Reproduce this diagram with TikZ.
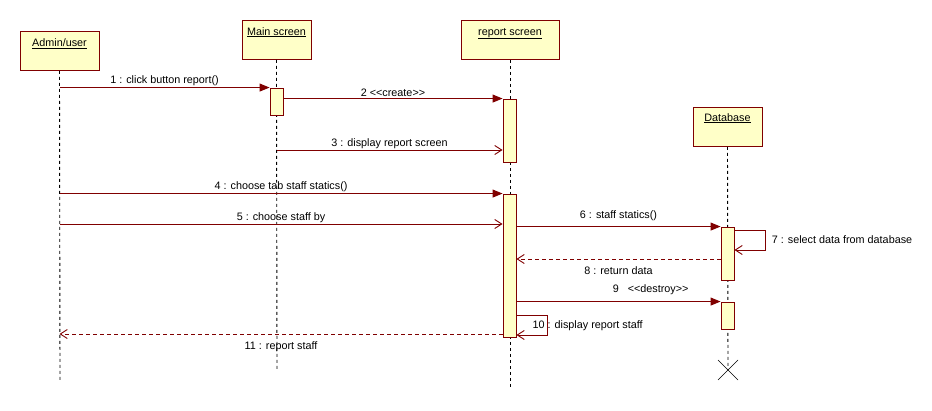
\documentclass[tikz,border=0pt]{standalone}
\usepackage{fontspec}
\setmainfont{Liberation Sans}[Ligatures=TeXOff]
\usepackage{xcolor}
\usetikzlibrary{arrows.meta,positioning,calc}
\definecolor{umlred}{RGB}{128,0,0}
\definecolor{umlfill}{RGB}{255,255,200}

\begin{document}
\begin{tikzpicture}[x=1pt,y=-1pt,
  txt/.style={font=\fontsize{10.8}{13}\selectfont, text=black, inner sep=3pt},
  msg/.style={txt, midway, above, yshift=-2pt},
  obj/.style={draw=umlred, fill=umlfill, line width=0.9pt, anchor=north, minimum height=39pt, inner sep=0pt},
  objname/.style={txt, anchor=base},
  act/.style={draw=umlred, fill=umlfill, line width=0.9pt, minimum width=13pt, inner sep=0pt},
  lifeline/.style={black, line width=0.9pt, dash pattern=on 3pt off 3pt},
  call/.style={umlred, line width=0.9pt, -{Triangle[length=10pt, width=8pt]}},
  send/.style={umlred, line width=0.9pt, -{Straight Barb[length=7pt, width=9pt]}},
  reply/.style={send, dash pattern=on 4pt off 3pt}]
\useasboundingbox (0,0) rectangle (932,410);

% Objects
\node[obj, minimum width=79pt] (admin) at (59.5,31) {};
\node[obj, minimum width=69pt] (mainscr) at (276.5,20) {};
\node[obj, minimum width=98pt] (report) at (510,20) {};
\node[obj, minimum width=69pt] (db) at (727.5,107) {};
\node[objname] (adminname) at ([yshift=-15.5pt]admin.north) {\underline{Admin/user}};
\node[objname] (mainname) at ([yshift=-15pt]mainscr.north) {\underline{Main screen}};
\node[objname] (reportname) at ([yshift=-15pt]report.north) {\underline{report screen}};
\node[objname] (dbname) at ([yshift=-14pt]db.north) {\underline{Database}};

% Lifelines
\coordinate (adminend) at (60,380);
\coordinate (mainend) at (277,369);
\coordinate (reportend) at (510,387);
\coordinate (dbend) at (728,370);
\draw[lifeline] (admin.south) -- (adminend);
\draw[lifeline] (mainscr.south) -- (mainend);
\draw[lifeline] (report.south) -- (reportend);
\draw[lifeline] (db.south) -- (dbend);
\draw[line width=0.6pt] ($(dbend)+(-10,-10)$) -- ($(dbend)+(10,10)$);
\draw[line width=0.6pt] ($(dbend)+(-10,10)$) -- ($(dbend)+(10,-10)$);

% Activations
\node[act, minimum height=27pt] (a1) at (276.5,101.5) {};
\node[act, minimum height=63pt] (a2) at (509.5,130.5) {};
\node[act, minimum height=143pt] (a3) at (509.5,265.5) {};
\node[act, minimum height=53pt] (a4) at (727.5,253.5) {};
\node[act, minimum height=27pt] (a5) at (727.5,315.5) {};

% Message rows
\foreach \n/\y in {r3/150, r5/224, r7a/230, r7b/250, r8/259, r10a/315, r10b/335, r11/334}
  \coordinate (\n) at (0,\y);

% Messages
\draw[call] (admin.south |- a1.north) -- (a1.north west) node[msg] {1 : click button report()};
\draw[call] (a1.east |- a2.north) -- (a2.north west) node[msg] {2 <<create>>};
\draw[send] (mainscr.south |- r3) -- (a2.west |- r3) node[msg] {3 : display report screen};
\draw[call] (admin.south |- a3.north) -- (a3.north west) node[msg] {4 : choose tab staff statics()};
\draw[send] (admin.south |- r5) -- (a3.west |- r5) node[msg] {5 : choose staff by};
\draw[call] (a3.east |- a4.north) -- (a4.north west) node[msg, yshift=4pt] {6 : staff statics()};
\draw[send] (a4.east |- r7a) -- ++(31,0) -- ++(0,20) node[txt, midway, right, xshift=3pt] {7 : select data from database} -- (a4.east |- r7b);
\draw[reply] (a4.west |- r8) -- (a3.east |- r8) node[txt, midway, below, yshift=-4pt] {8 : return data};
\draw[call] (a3.east |- a5.north) -- (a5.north west) node[txt, pos=0.455, anchor=south west, yshift=3pt] {9 \ \ <<destroy>>};
\draw[send] (a3.east |- r10a) -- ++(31,0) -- ++(0,20) -- (a3.east |- r10b);
\node[txt, anchor=west] (m10) at ($(a3.east |- r10a)!0.55!(a3.east |- r10b)+(13,0)$) {10 : display report staff};
\draw[reply] (a3.west |- r11) -- (admin.south |- r11) node[txt, midway, below, yshift=-4pt] {11 : report staff};

\end{tikzpicture}
\end{document}
